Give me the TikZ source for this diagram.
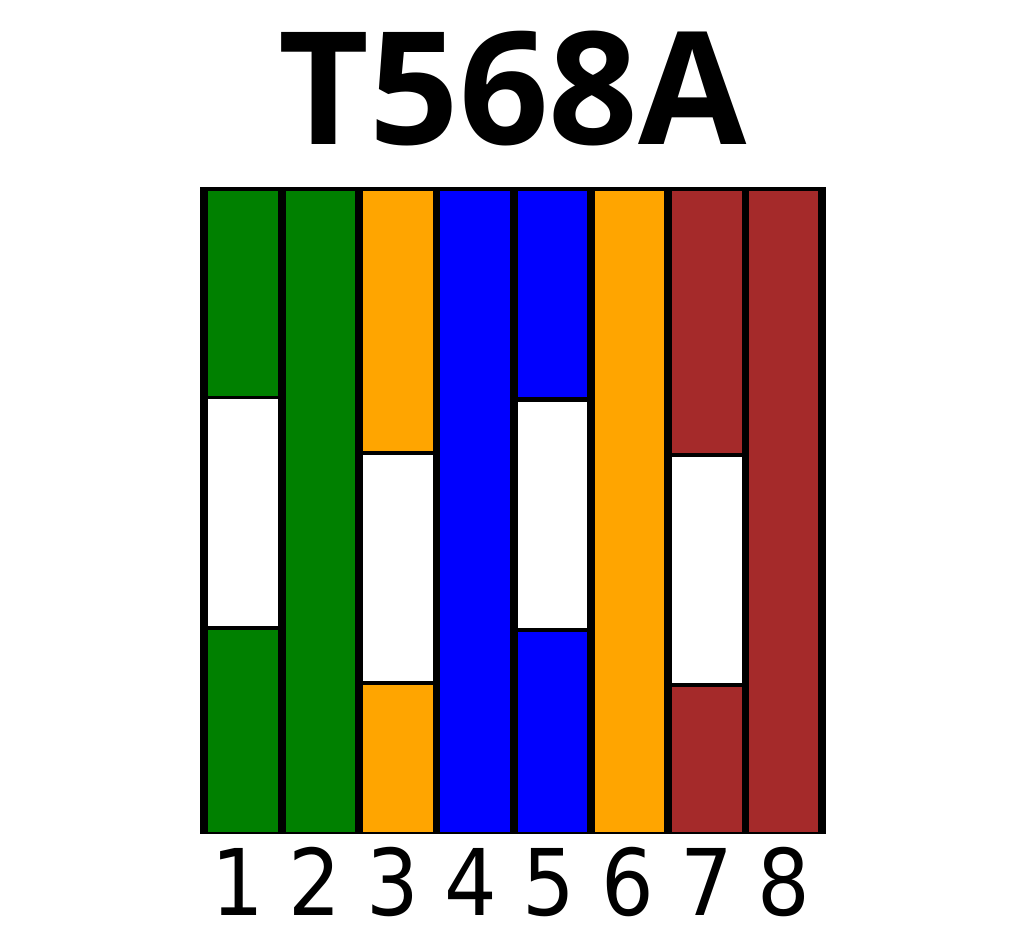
\documentclass[tikz,border=0pt]{standalone}
\usepackage{fontspec}
\newfontfamily\titlefont{Open Sans}
\newfontfamily\numfont[FakeStretch=0.9]{DejaVu Sans}
\definecolor{wgreen}{RGB}{0,128,0}
\definecolor{worange}{RGB}{255,165,0}
\definecolor{wblue}{RGB}{0,0,255}
\definecolor{wbrown}{RGB}{165,42,42}
\begin{document}
\begin{tikzpicture}[x=1pt,y=-1pt,
  numlabel/.style={inner sep=0pt,anchor=base,font=\numfont\fontsize{92}{92}\selectfont},
  titlelabel/.style={inner sep=0pt,anchor=base,font=\titlefont\bfseries\fontsize{157}{157}\selectfont}]
\useasboundingbox (0,0) rectangle (1024,940);
\fill[white] (0,0) rectangle (1024,940);
% frame
\fill[black] (200,186.5) rectangle (826,834);
% stripe width
\def\sw{69.6}
% 1 green/white
\fill[wgreen] (208,190.5) rectangle ++(\sw,205.2);
\fill[white] (208,399) rectangle ++(\sw,226.7);
\fill[wgreen] (208,630) rectangle ++(\sw,202);
% 2 green
\fill[wgreen] (285.5,190.5) rectangle ++(\sw,641.5);
% 3 orange/white
\fill[worange] (363,190.5) rectangle ++(\sw,260.2);
\fill[white] (363,454.7) rectangle ++(\sw,226);
\fill[worange] (363,685) rectangle ++(\sw,147);
% 4 blue
\fill[wblue] (440.3,190.5) rectangle ++(\sw,641.5);
% 5 blue/white
\fill[wblue] (517.5,190.5) rectangle ++(\sw,206.5);
\fill[white] (517.5,401.7) rectangle ++(\sw,226.3);
\fill[wblue] (517.5,632) rectangle ++(\sw,200);
% 6 orange
\fill[worange] (594.8,190.5) rectangle ++(\sw,641.5);
% 7 brown/white
\fill[wbrown] (672,190.5) rectangle ++(\sw,262.2);
\fill[white] (672,456.7) rectangle ++(\sw,226);
\fill[wbrown] (672,687) rectangle ++(\sw,145);
% 8 brown
\fill[wbrown] (749.3,190.5) rectangle ++(68.6,641.5);
% title
\node[titlelabel] (title) at (512.5,144) {T568A};
% numbers
\node[numlabel] (n1) at (238,915) {1};
\node[numlabel] (n2) at (315,915) {2};
\node[numlabel] (n3) at (393,915) {3};
\node[numlabel] (n4) at (471,915) {4};
\node[numlabel] (n5) at (549,915) {5};
\node[numlabel] (n6) at (628,915) {6};
\node[numlabel] (n7) at (707,915) {7};
\node[numlabel] (n8) at (784,915) {8};
\end{tikzpicture}
\end{document}
